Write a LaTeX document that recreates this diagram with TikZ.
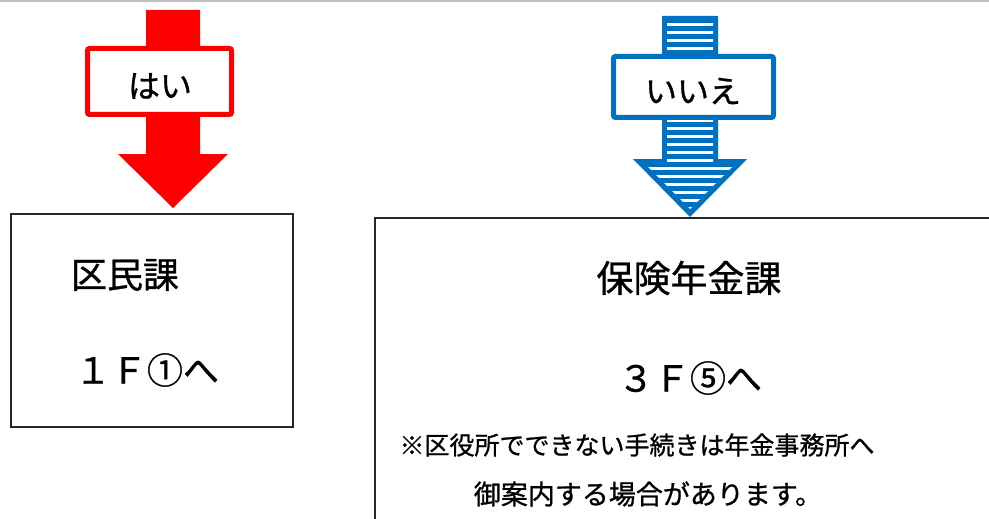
\documentclass[tikz,border=0pt]{standalone}
\usepackage{fontspec}
\setmainfont{Noto Sans CJK JP}[FakeBold=0.9]
\definecolor{yesred}{HTML}{FF0000}
\definecolor{noblue}{HTML}{0070C0}
\begin{document}
\begin{tikzpicture}[x=1pt,y=-1pt,
	box/.style={draw=black!85,line width=1.8pt},
	tag/.style={draw,line width=5pt,rounded corners=2pt,fill=white,inner sep=0pt},
	big/.style={font=\fontsize{36}{40}\selectfont},
	small/.style={font=\fontsize{25}{30}\selectfont}]
	\useasboundingbox (0,0) rectangle (989,519);
	\clip (0,0) rectangle (989,519);
	\draw[black!25,line width=1.5pt] (0,1) -- (989,1);

	% yes arrow
	\fill[yesred] (146,10) -- (200,10) -- (200,154) -- (228,154) -- (173,208)
		-- (118,154) -- (146,154) -- cycle;
	\node[tag,draw=yesred,minimum width=144pt,minimum height=66pt] (yes) at (159.5,81.5) {};
	\node[font=\fontsize{32}{36}\selectfont] (yes text) at (160,86) {はい};

	% no arrow
	\fill[noblue] (662,16) -- (718,16) -- (718,159) -- (747,159) -- (690,217)
		-- (633,159) -- (662,159) -- cycle;
	\begin{scope}
		\clip (667,21) -- (713,21) -- (713,162) -- (737,162) -- (690,209)
			-- (643,162) -- (667,162) -- cycle;
		\foreach \k in {0,...,23}
			\fill[white] (640,23+8*\k) rectangle (740,26+8*\k);
	\end{scope}
	\node[tag,draw=noblue,minimum width=160pt,minimum height=61pt] (no) at (693.5,87) {};
	\node[font=\fontsize{32}{36}\selectfont] (no text) at (693,91) {いいえ};

	% boxes
	\draw[box] (11,214) rectangle (293,427);
	\draw[box] (375,218) rectangle (1000,540);

	\node[big] (kumin) at (125,275) {区民課};
	\node[big] (kumin floor) at (147,370) {１Ｆ①へ};
	\node[font=\fontsize{37}{40}\selectfont] (hoken) at (689,278) {保険年金課};
	\node[big] (hoken floor) at (690,378) {３Ｆ⑤へ};
	\node[small] (note1) at (637,445) {※区役所でできない手続きは年金事務所へ};
	\node[font=\fontsize{27}{30}\selectfont] (note2) at (648,494) {御案内する場合があります。};
\end{tikzpicture}
\end{document}
